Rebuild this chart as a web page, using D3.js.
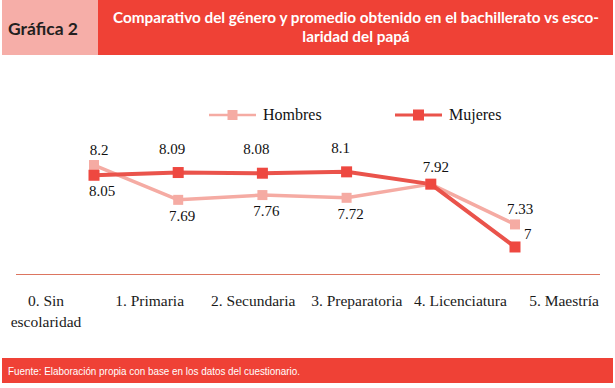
<!DOCTYPE html>
<html><head><meta charset="utf-8">
<script src="https://cdn.jsdelivr.net/npm/d3@7/dist/d3.min.js"></script>
<style>
html,body{margin:0;padding:0;background:#fff;}
svg{display:block;}
</style></head>
<body>
<svg id="chart" width="615" height="388"></svg>
<script>
const categories = ["0. Sin escolaridad","1. Primaria","2. Secundaria","3. Preparatoria","4. Licenciatura","5. Maestría"];
const hombres = [8.2, 7.69, 7.76, 7.72, 7.92, 7.33];
const mujeres = [8.05, 8.09, 8.08, 8.1, 7.92, 7];
const seriesNames = ["Hombres","Mujeres"];
const chartLabel = "Gráfica 2";
const titleLines = ["Comparativo del género y promedio obtenido en el bachillerato vs esco-","laridad del papá"];
const sourceText = "Fuente: Elaboración propia con base en los datos del cuestionario.";

const C_RED = "#ef4136", C_PINK = "#f6aea8";
const C_H = "#f5aba3", C_M = "#ea534b", C_MM = "#ee4840";
const serif = "'Liberation Serif','Times New Roman',serif";

const svg = d3.select("#chart");

// Header
svg.append("rect").attr("x",2).attr("y",0).attr("width",96).attr("height",55).attr("fill",C_PINK);
svg.append("rect").attr("x",98).attr("y",0).attr("width",515).attr("height",55).attr("fill",C_RED);
svg.append("text").attr("x",8).attr("y",35).text(chartLabel)
  .attr("font-family","Lato,'Open Sans',sans-serif").attr("font-weight","bold")
  .attr("font-size",17.5).attr("fill","#231f20");
svg.selectAll(".title").data(titleLines).enter().append("text")
  .attr("x",356).attr("y",(d,i)=>23+i*19).attr("text-anchor","middle")
  .attr("font-family","Lato,'Open Sans',sans-serif").attr("font-weight","bold")
  .attr("font-size",15.3).attr("fill","#fff").text(d=>d);

// Scales
const x = d3.scalePoint().domain(categories).range([94, 515]);
const xl = d3.scalePoint().domain(categories).range([46, 564]);
const y = d3.scaleLinear().domain([6.6, 8.6]).range([274.3, 137.7]);

// Axis baseline
const axis = d3.axisBottom(x).tickSize(0).tickSizeOuter(0).tickFormat("");
const ag = svg.append("g").attr("transform","translate(0,274)").call(axis);
ag.select(".domain").attr("d","M16,0.5H600").attr("stroke","#dc7560").attr("stroke-width",1.2);

// Category labels
const lab = svg.append("g");
categories.forEach(c=>{
  const m = c.match(/^(\d\. \S+)\s(.+)$/);
  const lines = (c.length>16 && m) ? [m[1], m[2]] : [c];
  const t = lab.append("text").attr("x",xl(c)).attr("y",306).attr("text-anchor","middle")
    .attr("font-family",serif).attr("font-size",15.5).attr("fill","#1a1a1a");
  lines.forEach((l,i)=>t.append("tspan").attr("x",xl(c)).attr("dy",i?21:0).text(l));
});

// Lines
const series = [
  {name:seriesNames[0], values:hombres, color:C_H, mcolor:C_H, w:3.5, ms:10},
  {name:seriesNames[1], values:mujeres, color:C_M, mcolor:C_MM, w:4, ms:11}
];
const line = d3.line().x((d,i)=>x(categories[i])).y(d=>y(d));
series.forEach(s=>{
  svg.append("path").datum(s.values).attr("d",line).attr("fill","none")
    .attr("stroke",s.color).attr("stroke-width",s.w).attr("stroke-linejoin","round");
});
series.forEach(s=>{
  svg.append("g").selectAll("rect").data(s.values).enter().append("rect")
    .attr("x",(d,i)=>x(categories[i])-s.ms/2).attr("y",d=>y(d)-s.ms/2)
    .attr("width",s.ms).attr("height",s.ms).attr("fill",s.mcolor);
});

// Data labels
const fmt = v => String(v);
const lg = svg.append("g").attr("font-family",serif).attr("font-size",15).attr("fill","#111");
categories.forEach((c,i)=>{
  const h = hombres[i], m = mujeres[i];
  const cx = x(c);
  if (h === m) {
    lg.append("text").attr("x",cx+5).attr("y",y(m)-12).attr("text-anchor","middle").text(fmt(m));
    return;
  }
  const hAbove = h > m;
  lg.append("text").attr("x",cx+(hAbove?5:4)).attr("y",hAbove ? y(h)-10 : y(h)+21).attr("text-anchor","middle").text(fmt(h));
  if (hAbove && i === categories.length-1) {
    lg.append("text").attr("x",cx+9).attr("y",y(m)-8).attr("text-anchor","start").text(fmt(m));
  } else {
    lg.append("text").attr("x",cx+(hAbove?8:-6)).attr("y",hAbove ? y(m)+21 : y(m)-19).attr("text-anchor","middle").text(fmt(m));
  }
});

// Legend
const legendX = [209, 395];
series.forEach((s,i)=>{
  const g = svg.append("g").attr("transform",`translate(${legendX[i]},115)`);
  g.append("line").attr("x1",0).attr("x2",47).attr("stroke",s.color).attr("stroke-width",s.w-1);
  g.append("rect").attr("x",23.5-s.ms/2).attr("y",-s.ms/2).attr("width",s.ms).attr("height",s.ms).attr("fill",s.mcolor);
  g.append("text").attr("x",54).attr("y",5).attr("font-family",serif).attr("font-size",16).attr("fill","#111").text(s.name);
});

// Footer
svg.append("rect").attr("x",2).attr("y",358).attr("width",611).attr("height",25).attr("fill",C_RED);
svg.append("text").attr("x",8).attr("y",374.5).text(sourceText)
  .attr("font-family","'Liberation Sans Narrow','Liberation Sans',Arial,sans-serif")
  .attr("font-size",10.5).attr("fill","#fff").attr("textLength",292).attr("lengthAdjust","spacingAndGlyphs");
</script>
</body></html>
